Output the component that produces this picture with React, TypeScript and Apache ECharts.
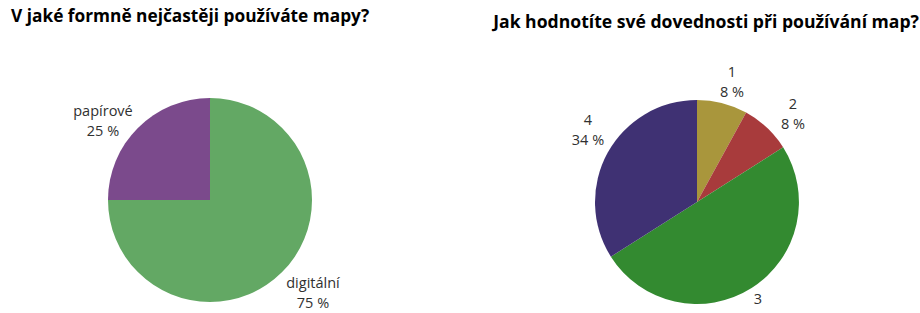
import React, { useEffect, useRef } from "react";
import * as echarts from "echarts";

const leftTitle = "V jaké formně nejčastěji používáte mapy?";
const rightTitle = "Jak hodnotíte své dovednosti při používání map?";
const leftCategories = ["digitální", "papírové"];
const leftValues = [75, 25];
const leftColors = ["#63a864", "#7b4a8c"];
const rightCategories = ["1", "2", "3", "4"];
const rightValues = [8, 8, 50, 34];
const rightColors = ["#a9963c", "#a83b3c", "#338a30", "#3f3173"];

const leftLabelPos: Record<number, [number, number]> = { 0: [313, 292], 1: [103, 120] };
const rightLabelPos: Record<number, [number, number]> = {
  0: [732, 81],
  1: [793, 113],
  2: [758, 308],
  3: [588, 129],
};

export default function App() {
  const ref = useRef<HTMLDivElement>(null);
  useEffect(() => {
    if (!ref.current) return;
    const chart = echarts.init(ref.current, undefined, { renderer: "svg" });
    const font = "Open Sans, Noto Sans, sans-serif";
    const labelStyle = {
      show: true,
      formatter: (p: any) => `${p.name}\n${p.value} %`,
      fontFamily: font,
      fontSize: 14.5,
      color: "#303030",
      lineHeight: 20,
      align: "center" as const,
    };
    chart.setOption({
      animation: false,
      backgroundColor: "#ffffff",
      title: [
        {
          text: leftTitle,
          left: 11,
          top: 7,
          padding: 0,
          textStyle: { fontFamily: font, fontWeight: "bold", fontSize: 17.3, color: "#000" },
        },
        {
          text: rightTitle,
          right: 1,
          top: 12,
          padding: 0,
          textStyle: { fontFamily: font, fontWeight: "bold", fontSize: 17.6, color: "#000" },
        },
      ],
      series: [
        {
          type: "pie",
          center: [210, 200],
          radius: 102,
          startAngle: 90,
          clockwise: true,
          data: leftCategories.map((n, i) => ({ name: n, value: leftValues[i], itemStyle: { color: leftColors[i] } })),
          label: labelStyle,
          labelLine: { show: false },
          labelLayout: (p: any) => {
            const pos = leftLabelPos[p.dataIndex];
            return { x: pos[0], y: pos[1], align: "center", verticalAlign: "middle" };
          },
          emphasis: { disabled: true },
        },
        {
          type: "pie",
          center: [697, 202],
          radius: 102,
          startAngle: 90,
          clockwise: true,
          data: rightCategories.map((n, i) => ({ name: n, value: rightValues[i], itemStyle: { color: rightColors[i] } })),
          label: labelStyle,
          labelLine: { show: false },
          labelLayout: (p: any) => {
            const pos = rightLabelPos[p.dataIndex];
            return { x: pos[0], y: pos[1], align: "center", verticalAlign: "middle" };
          },
          emphasis: { disabled: true },
        },
      ],
    });
    return () => chart.dispose();
  }, []);
  return <div ref={ref} style={{ width: 920, height: 313, position: "absolute", left: 0, top: 0 }} />;
}
